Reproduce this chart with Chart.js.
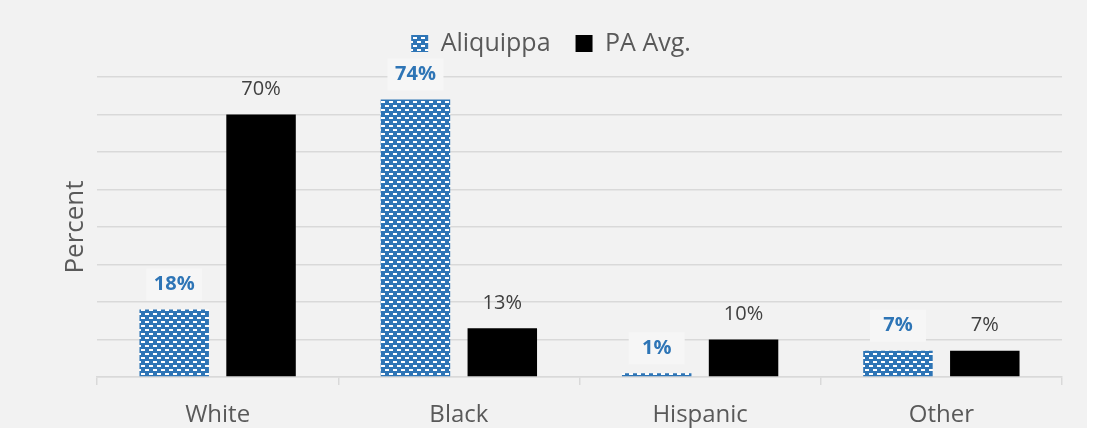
<!DOCTYPE html>
<html>
<head>
<meta charset="utf-8">
<script src="https://cdn.jsdelivr.net/npm/chart.js@4"></script>
<style>
  html, body { margin: 0; padding: 0; background: #fff; }
  #wrap { width: 1094px; height: 428px; }
</style>
</head>
<body>
<div id="wrap"><canvas id="myChart" width="1094" height="428"></canvas></div>
<script>
var categories = ['White', 'Black', 'Hispanic', 'Other'];
var aliquippa = [18, 74, 1, 7];
var paAvg = [70, 13, 10, 7];
var seriesNames = ['Aliquippa', 'PA Avg.'];
var yTicks = [0, 10, 20, 30, 40, 50, 60, 70, 80];

// blue fill with white brick dashes, like the Excel pattern fill
function brickPattern() {
    var c = document.createElement('canvas');
    c.width = 8; c.height = 8;
    var g = c.getContext('2d');
    g.fillStyle = '#2e75b6';
    g.fillRect(0, 0, 8, 8);
    g.fillStyle = '#ffffff';
    g.fillRect(1, 1, 4, 2);
    g.fillRect(5, 5, 3, 2);
    g.fillRect(0, 5, 1, 2);
    return g.createPattern(c, 'repeat');
}

var bgPlugin = {
    id: 'bg',
    beforeDraw: function(chart) {
        var c = chart.ctx;
        c.save();
        c.fillStyle = '#f2f2f2';
        c.fillRect(0, 0, 1087, chart.height);
        c.restore();
    }
};

// extra room under the legend
var legendGap = {
    id: 'legendGap',
    beforeInit: function(chart) {
        var origFit = chart.legend.fit;
        chart.legend.fit = function() {
            origFit.bind(chart.legend)();
            this.height += 11;
        };
    }
};

var labelPlugin = {
    id: 'valueLabels',
    afterDatasetsDraw: function(chart) {
        var c = chart.ctx;
        c.save();
        c.textAlign = 'center';
        c.textBaseline = 'middle';
        chart.data.datasets.forEach(function(ds, i) {
            var meta = chart.getDatasetMeta(i);
            meta.data.forEach(function(bar, j) {
                var y = bar.y - 25;
                if (i === 0) {
                    c.fillStyle = '#f6f6f6';
                    c.fillRect(bar.x - 28, y - 16, 56, 32);
                    c.font = 'bold 20px "Open Sans"';
                    c.fillStyle = '#2e75b6';
                } else {
                    c.font = '20px "Open Sans"';
                    c.fillStyle = '#404040';
                }
                c.fillText(ds.data[j] + '%', bar.x, y);
            });
        });
        c.restore();
    }
};

var ctx = document.getElementById('myChart').getContext('2d');
var myChart = new Chart(ctx, {
    type: 'bar',
    plugins: [bgPlugin, legendGap, labelPlugin],
    data: {
        labels: categories,
        datasets: [{
            label: seriesNames[0],
            data: aliquippa,
            backgroundColor: brickPattern(),
            borderWidth: 0,
            barPercentage: 0.8,
            categoryPercentage: 0.72
        }, {
            label: seriesNames[1],
            data: paAvg,
            backgroundColor: '#000000',
            borderWidth: 0,
            barPercentage: 0.8,
            categoryPercentage: 0.72
        }]
    },
    options: {
        responsive: false,
        animation: false,
        layout: {
            padding: { top: 6, right: 32, bottom: 0, left: 40 }
        },
        plugins: {
            legend: {
                display: true,
                position: 'top',
                labels: {
                    color: '#595959',
                    boxWidth: 17,
                    boxHeight: 17,
                    padding: 25,
                    font: { family: 'Open Sans', size: 25 }
                }
            },
            tooltip: { enabled: false }
        },
        scales: {
            x: {
                grid: {
                    display: true,
                    offset: true,
                    drawOnChartArea: false,
                    drawTicks: true,
                    tickLength: 8,
                    color: '#d9d9d9',
                    lineWidth: 1.5
                },
                border: { display: true, color: '#d9d9d9', width: 1.5 },
                ticks: {
                    color: '#595959',
                    padding: 16,
                    font: { family: 'Open Sans', size: 24 }
                },
                afterFit: function(scale) { scale.height = 51; }
            },
            y: {
                min: 0,
                max: 80,
                afterBuildTicks: function(scale) {
                    scale.ticks = yTicks.map(function(v) { return { value: v }; });
                },
                grid: {
                    color: '#d9d9d9',
                    lineWidth: 1.5,
                    drawTicks: false
                },
                border: { display: false },
                ticks: { display: false },
                title: {
                    display: true,
                    text: 'Percent',
                    color: '#595959',
                    font: { family: 'Open Sans', size: 26 },
                    padding: { top: 20, bottom: 0 }
                },
                afterFit: function(scale) { scale.width = 57; }
            }
        }
    }
});
</script>
</body>
</html>
